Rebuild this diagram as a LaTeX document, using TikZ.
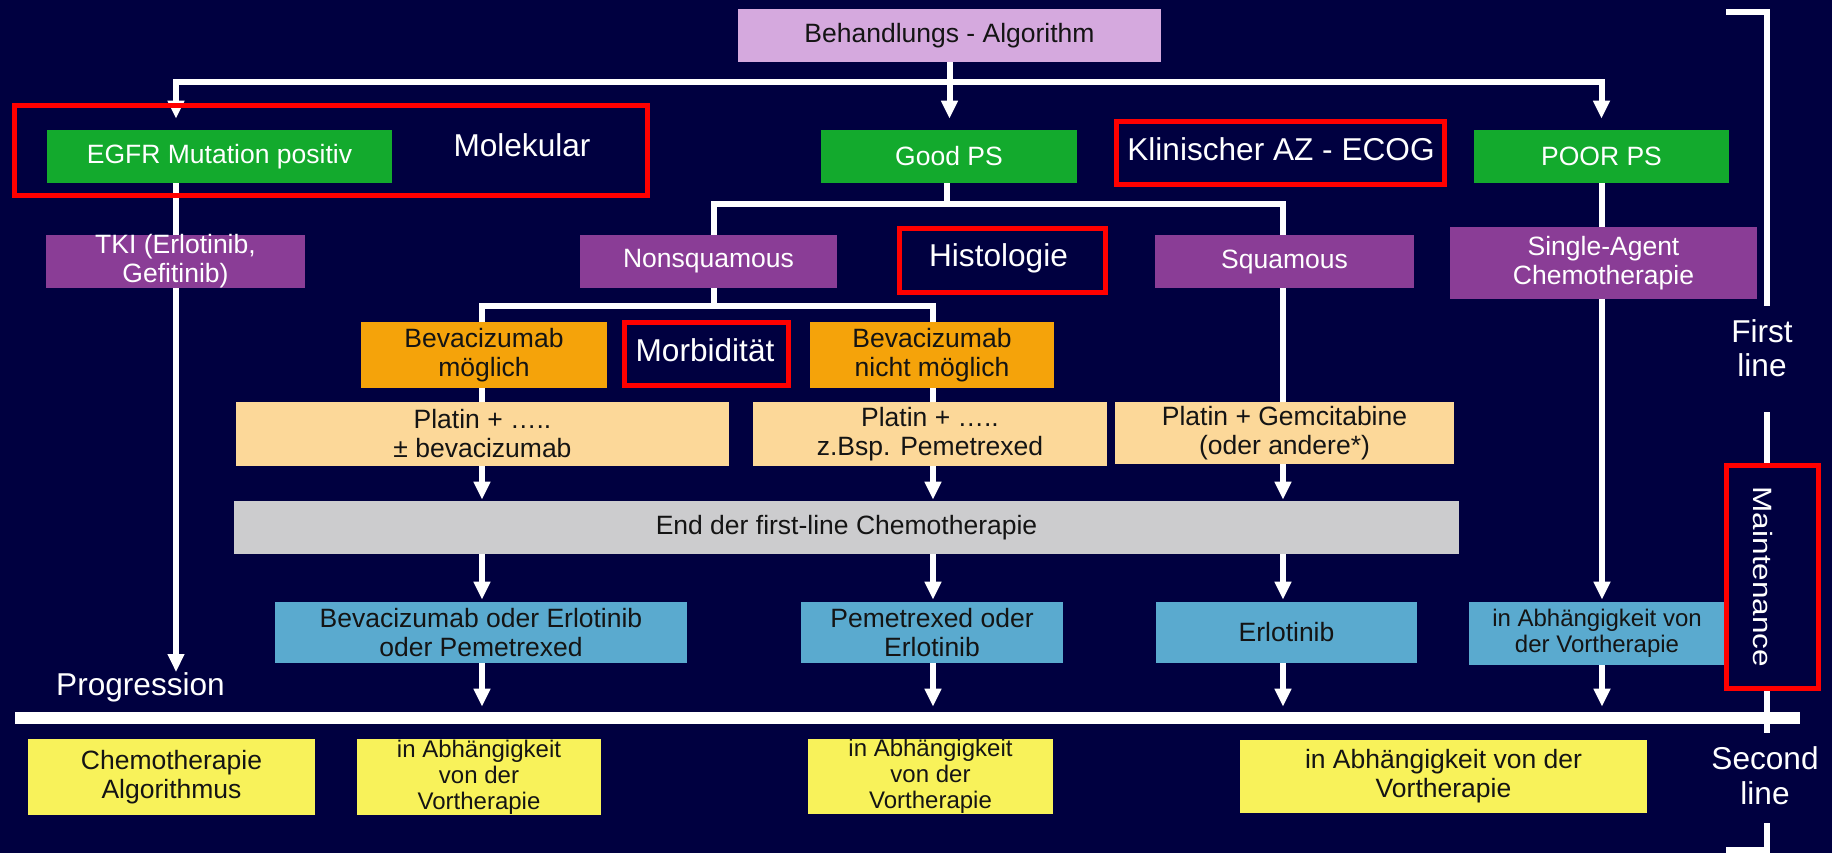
\documentclass[tikz,border=0pt]{standalone}
\usepackage{fontspec}
\setmainfont{Liberation Sans}
\usetikzlibrary{arrows.meta}
\definecolor{bgnavy}{RGB}{0,0,64}
\definecolor{lilac}{RGB}{213,169,222}
\definecolor{bgreen}{RGB}{19,170,45}
\definecolor{bpurple}{RGB}{138,61,150}
\definecolor{borange}{RGB}{245,163,10}
\definecolor{bpeach}{RGB}{252,216,153}
\definecolor{bgrey}{RGB}{204,204,206}
\definecolor{bblue}{RGB}{90,170,207}
\definecolor{byellow}{RGB}{248,242,90}
\definecolor{bred}{RGB}{255,0,0}
\definecolor{txtdark}{RGB}{20,20,20}
\pgfdeclarelayer{bgl}
\pgfdeclarelayer{lines}
\pgfsetlayers{bgl,lines,main}
\begin{document}
\begin{tikzpicture}[x=0.5pt,y=-0.5pt,
  tmid/.style={font=\fontsize{13.25pt}{14.5pt}\selectfont},
  tsmall/.style={font=\fontsize{12pt}{13pt}\selectfont},
  tbig/.style={font=\fontsize{15.8pt}{17pt}\selectfont, text=white},
  box/.style={rectangle, inner sep=0pt, align=center, tmid, text=txtdark},
  wbox/.style={box, text=white},
  redframe/.style={draw=bred, line width=2.5pt},
  wl/.style={draw=white, line width=3pt},
  arr/.style={wl, -{Triangle[length=9pt,width=8pt]}},
  arrtwo/.style={wl, {Triangle[length=9pt,width=8pt]}-{Triangle[length=9pt,width=8pt]}}
]
\useasboundingbox (0,0) rectangle (1832,853);
\begin{pgfonlayer}{bgl}
  \fill[bgnavy] (0,0) rectangle (1832,853);
\end{pgfonlayer}

% ---- boxes ----
\node[box, fill=lilac, minimum width=211.5pt, minimum height=26.5pt] (title) at (949.5,35.5) {Behandlungs - Algorithm};

\node[wbox, fill=bgreen, minimum width=172.5pt, minimum height=26.5pt] (egfr) at (219.5,156.5) {EGFR Mutation positiv};
\node[wbox, fill=bgreen, minimum width=128pt, minimum height=26.5pt] (good) at (949,156.5) {Good PS};
\node[wbox, fill=bgreen, minimum width=127.5pt, minimum height=26.5pt] (poor) at (1601.5,156.5) {POOR PS};

\node[wbox, fill=bpurple, minimum width=129.5pt, minimum height=26.5pt] (tki) at (175.5,261.5) {TKI (Erlotinib,\\Gefitinib)};
\node[wbox, fill=bpurple, minimum width=128.5pt, minimum height=26.5pt] (nonsq) at (708.5,261.5) {Nonsquamous};
\node[wbox, fill=bpurple, minimum width=129.5pt, minimum height=26.5pt] (sq) at (1284.5,261.5) {Squamous};
\node[wbox, fill=bpurple, minimum width=153.5pt, minimum height=36pt] (sa) at (1603.5,263) {Single-Agent\\Chemotherapie};

\node[box, fill=borange, minimum width=123pt, minimum height=33pt] (bevm) at (484,355) {Bevacizumab\\möglich};
\node[box, fill=borange, minimum width=122.25pt, minimum height=33pt] (bevn) at (932,355) {Bevacizumab\\nicht möglich};

\node[box, fill=bpeach, minimum width=246.5pt, minimum height=32pt] (p1) at (482.5,434) {Platin + …..\\± bevacizumab};
\node[box, fill=bpeach, minimum width=177pt, minimum height=32pt] (p2) at (930,434) {Platin + …..\\z.Bsp. Pemetrexed};
\node[box, fill=bpeach, minimum width=169.5pt, minimum height=31pt] (p3) at (1284.5,433) {Platin + Gemcitabine\\(oder andere*)};

\node[box, fill=bgrey, minimum width=612.5pt, minimum height=26.5pt] (grey) at (846.5,527.5) {End der first-line Chemotherapie};

\node[box, fill=bblue, minimum width=206pt, minimum height=30.5pt] (b1) at (481,632.5) {Bevacizumab oder Erlotinib\\oder Pemetrexed};
\node[box, fill=bblue, minimum width=131pt, minimum height=30.5pt] (b2) at (932,632.5) {Pemetrexed oder\\Erlotinib};
\node[box, fill=bblue, minimum width=130.5pt, minimum height=30.5pt] (b3) at (1286.5,632.5) {Erlotinib};
\node[box, tsmall, fill=bblue, minimum width=127.75pt, minimum height=31.5pt] (b4) at (1597,633.5) {in Abhängigkeit von\\der Vortherapie};

\node[rectangle, fill=white, inner sep=0pt, minimum width=892.5pt, minimum height=6pt] (bar) at (907.5,718) {};

\node[box, fill=byellow, minimum width=143.5pt, minimum height=38pt] (y1) at (171.5,777) {Chemotherapie\\Algorithmus};
\node[box, tsmall, fill=byellow, minimum width=122pt, minimum height=38pt] (y2) at (479,777) {in Abhängigkeit\\von der\\Vortherapie};
\node[box, tsmall, fill=byellow, minimum width=122.5pt, minimum height=36.5pt] (y3) at (930.5,776.5) {in Abhängigkeit\\von der\\Vortherapie};
\node[box, fill=byellow, minimum width=203.5pt, minimum height=36.5pt] (y4) at (1443.5,776.5) {in Abhängigkeit von der\\Vortherapie};

% ---- labels ----
\node[tbig, anchor=base, inner sep=0pt] (molek) at (522,156.7) {Molekular};
\node[tbig, anchor=base, inner sep=0pt] (klin) at (1281,160.7) {Klinischer AZ - ECOG};
\node[tbig, anchor=base, inner sep=0pt] (histo) at (998.5,266) {Histologie};
\node[tbig, anchor=base, inner sep=0pt] (morb) at (705,361.7) {Morbidität};
\node[tbig, anchor=base, inner sep=0pt] (prog) at (140.5,695) {Progression};
\node[tbig, align=center, inner sep=0pt] (firstl) at (1762,348.5) {First\\line};
\node[tbig, align=center, inner sep=0pt, font=\fontsize{15.8pt}{17.5pt}\selectfont] (secondl) at (1765,776) {Second\\line};
\node[text=white, inner sep=0pt, rotate=-90, font=\fontsize{13.25pt}{15pt}\selectfont] (maint) at (1762.5,577) {\scalebox{1.19}[1]{Maintenance}};

% ---- red frames ----
\draw[redframe] (14,105.5) rectangle (647,195.5);
\draw[redframe] (1116,121) rectangle (1444,184);
\draw[redframe] (899,228.5) rectangle (1105.5,292);
\draw[redframe] (624,322) rectangle (788,385);
\draw[redframe] (1726.5,465) rectangle (1818,688);

% ---- connectors ----
\coordinate (cA) at (176,82);
\coordinate (progtip) at (176,672);
\coordinate (h2) at (947,204);
\coordinate (h3) at (714,306);
\coordinate (xB) at (482,0);
\coordinate (xC) at (714,0);
\coordinate (xD) at (933,0);
\coordinate (xF) at (1283,0);
\coordinate (xG) at (1602,0);

\begin{pgfonlayer}{lines}
  % top level
  \draw[arrtwo, shorten <=5.5pt, shorten >=5.5pt] (egfr.north -| cA) |- (poor.north |- cA) -- (poor.north);
  \draw[arr, shorten >=5.5pt] (title.south) -- (title.south |- good.north);
  % EGFR column
  \draw[arr] (egfr.south -| cA) -- (progtip);
  % Good PS split
  \draw[wl] (good.south -| h2) -- (h2);
  \draw[wl] (nonsq.north -| xC) |- (h2) -| (sq.north -| xF);
  % Nonsquamous split
  \draw[wl] (nonsq.south -| xC) -- (h3);
  \draw[wl] (bevm.north -| xB) |- (h3) -| (bevn.north -| xD);
  % column B
  \draw[wl] (bevm.south -| xB) -- (p1.north -| xB);
  \draw[arr, shorten >=0.5pt] (p1.south -| xB) -- (grey.north -| xB);
  \draw[arr, shorten >=1pt] (grey.south -| xB) -- (b1.north -| xB);
  \draw[arr, shorten >=2.5pt] (b1.south -| xB) -- (bar.north -| xB);
  % column D
  \draw[wl] (bevn.south -| xD) -- (p2.north -| xD);
  \draw[arr, shorten >=0.5pt] (p2.south -| xD) -- (grey.north -| xD);
  \draw[arr, shorten >=1pt] (grey.south -| xD) -- (b2.north -| xD);
  \draw[arr, shorten >=2.5pt] (b2.south -| xD) -- (bar.north -| xD);
  % column F
  \draw[wl] (sq.south -| xF) -- (p3.north -| xF);
  \draw[arr, shorten >=0.5pt] (p3.south -| xF) -- (grey.north -| xF);
  \draw[arr, shorten >=1pt] (grey.south -| xF) -- (b3.north -| xF);
  \draw[arr, shorten >=2.5pt] (b3.south -| xF) -- (bar.north -| xF);
  % column G
  \draw[wl] (poor.south -| xG) -- (sa.north -| xG);
  \draw[arr, shorten >=1pt] (sa.south -| xG) -- (b4.north -| xG);
  \draw[arr, shorten >=2.5pt] (b4.south -| xG) -- (bar.north -| xG);
  % right bracket
  \draw[wl] (1726,12) -| (1767,306);
  \draw[wl] (1767,412) -- (1767,463);
  \draw[wl] (1767,690) -- (1767,733);
  \draw[wl] (1767,823) |- (1726,850);
\end{pgfonlayer}
\end{tikzpicture}
\end{document}
